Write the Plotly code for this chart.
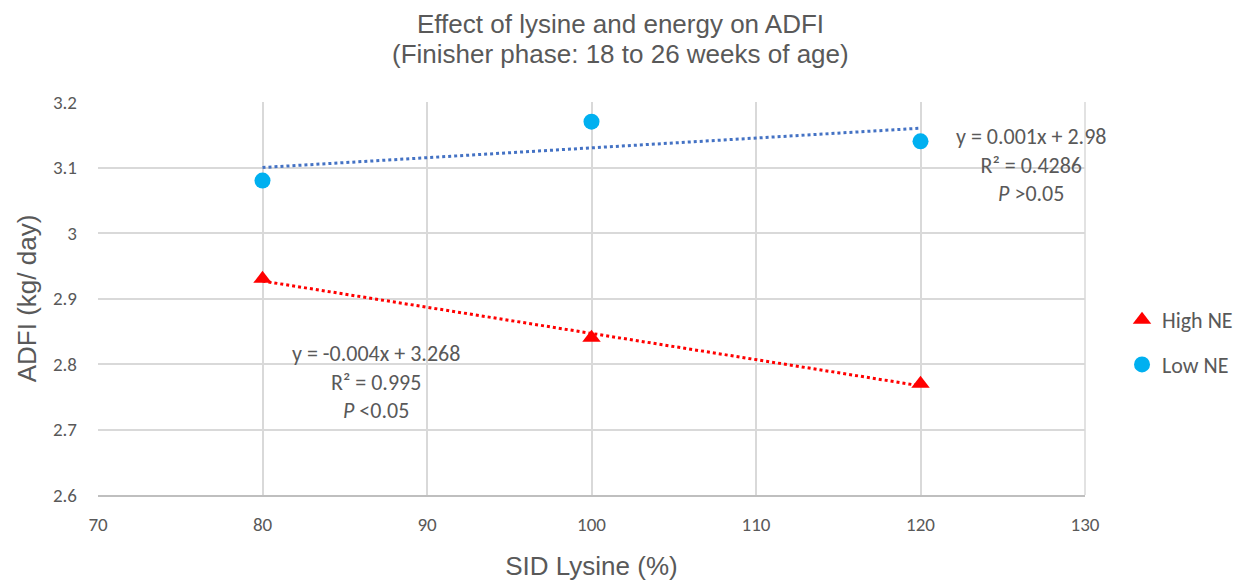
import numpy as np
import plotly.graph_objects as go

lysine = [80, 100, 120]
high_ne = [2.93, 2.84, 2.77]
low_ne = [3.08, 3.17, 3.14]
x_ticks = [70, 80, 90, 100, 110, 120, 130]
y_ticks = [2.6, 2.7, 2.8, 2.9, 3.0, 3.1, 3.2]
y_tick_text = ["2.6", "2.7", "2.8", "2.9", "3", "3.1", "3.2"]

gray = "#595959"
cal = "Carlito, Calibri, Lato, Open Sans, sans-serif"
arial = "Liberation Sans, Arial"

xl = np.array(lysine, dtype=float)
fit_low = np.polyfit(xl, low_ne, 1)
fit_high = np.polyfit(xl, high_ne, 1)

fig = go.Figure()
fig.add_trace(go.Scatter(x=lysine, y=np.polyval(fit_high, xl), mode="lines",
                         line=dict(color="#FF0000", width=3, dash="dot"), showlegend=False, hoverinfo="skip"))
fig.add_trace(go.Scatter(x=lysine, y=np.polyval(fit_low, xl), mode="lines",
                         line=dict(color="#4472C4", width=3, dash="dot"), showlegend=False, hoverinfo="skip"))
fig.add_trace(go.Scatter(x=lysine, y=high_ne, mode="markers", name="High NE", legendgroup="high",
                         marker=dict(symbol="triangle-up", size=16, color="#FF0000")))
fig.add_trace(go.Scatter(x=lysine, y=low_ne, mode="markers", name="Low NE", legendgroup="low",
                         marker=dict(symbol="circle", size=16, color="#00B0F0")))

fig.update_layout(
    width=1246, height=581,
    margin=dict(l=98, r=161, t=102, b=86, autoexpand=False),
    paper_bgcolor="white", plot_bgcolor="white",
    xaxis=dict(range=[70, 130], tickvals=x_ticks, showgrid=True, gridcolor="#D9D9D9", gridwidth=1.5,
               zeroline=False, showline=True, linecolor="#BFBFBF", linewidth=2, automargin=False,
               tickfont=dict(family=cal, size=19, color=gray), ticks="", ticklabelstandoff=11,
               title=dict(text="SID Lysine (%)", font=dict(family=arial, size=26, color=gray), standoff=25)),
    yaxis=dict(range=[2.6, 3.2], tickvals=y_ticks, ticktext=y_tick_text, showgrid=True, gridcolor="#D9D9D9",
               gridwidth=1.5, zeroline=False, showline=False, automargin=False,
               tickfont=dict(family=cal, size=19, color=gray), ticks="", ticklabelstandoff=20,
               title=dict(text="ADFI (kg/ day)", font=dict(family=arial, size=26, color=gray), standoff=8)),
    legend=dict(x=1.0375, y=0.388, xanchor="left", yanchor="middle", font=dict(family=cal, size=22, color=gray),
                itemsizing="trace", tracegroupgap=13, bgcolor="rgba(0,0,0,0)", itemwidth=30),
)


def cy(py):
    return (495 - py) / (495 - 102)


def cx(px):
    return (px - 98) / (1085 - 98)


fig.add_annotation(x=cx(620), y=cy(24), xref="paper", yref="paper", xanchor="center", yanchor="middle",
                   text="Effect of lysine and energy on ADFI", showarrow=False,
                   font=dict(family=arial, size=26, color=gray))
fig.add_annotation(x=cx(620), y=cy(54), xref="paper", yref="paper", xanchor="center", yanchor="middle",
                   text="(Finisher phase: 18 to 26 weeks of age)", showarrow=False,
                   font=dict(family=arial, size=26, color=gray))
fig.add_annotation(x=cx(1031), y=cy(121), xref="paper", yref="paper", xanchor="center", yanchor="top",
                   text="y = 0.001x + 2.98<br>R² = 0.4286<br><i>P</i> >0.05",
                   showarrow=False, align="center", font=dict(family=cal, size=22, color=gray))
fig.add_annotation(x=cx(376), y=cy(338), xref="paper", yref="paper", xanchor="center", yanchor="top",
                   text="y = -0.004x + 3.268<br>R² = 0.995<br><i>P</i> <0.05",
                   showarrow=False, align="center", font=dict(family=cal, size=22, color=gray))

fig.add_shape(type="line", xref="paper", yref="paper", x0=1, x1=1, y0=0, y1=1,
              line=dict(color="#D9D9D9", width=1.5))
fig.write_html("out.html")
